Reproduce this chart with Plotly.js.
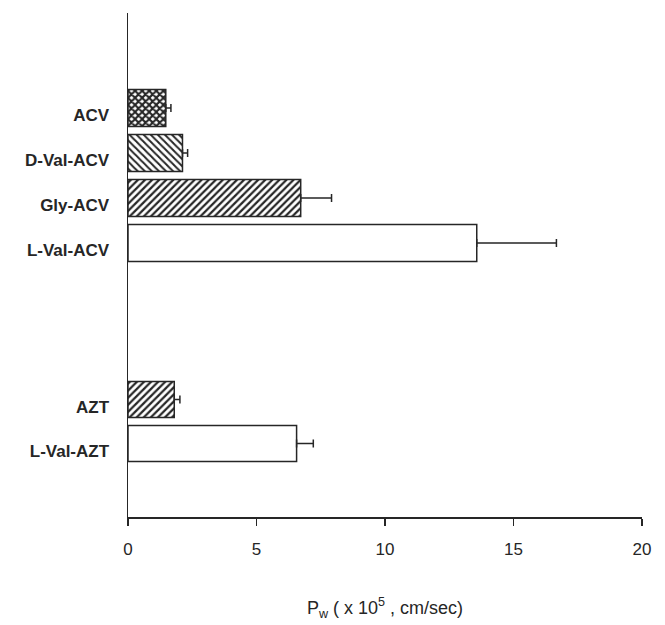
<!DOCTYPE html>
<html>
<head>
<meta charset="utf-8">
<script src="https://cdn.plot.ly/plotly-3.0.1.min.js"></script>
<style>html,body{margin:0;padding:0;background:#fff;}#chart{width:665px;height:625px;}</style>
</head>
<body>
<div id="chart"></div>
<script>
// ACV prodrug group
const acvCategories = ["ACV", "D-Val-ACV", "Gly-ACV", "L-Val-ACV"];
const acvValues = [1.47, 2.12, 6.72, 13.57];
const acvErrors = [0.2, 0.2, 1.2, 3.1];

// AZT prodrug group
const aztCategories = ["AZT", "L-Val-AZT"];
const aztValues = [1.8, 6.56];
const aztErrors = [0.22, 0.65];

const xTicks = [0, 5, 10, 15, 20];

// fill styles (pattern shape, solidity) per bar
const acvPatterns = ["x", "\\", "/", ""];
const acvSolidity = [0.65, 0.4, 0.45, 0.3];
const aztPatterns = ["/", ""];
const aztSolidity = [0.45, 0.3];

const ink = "#262626";
const fontFam = "Liberation Sans, Arial, sans-serif";

function barTrace(cats, vals, errs, pats, sol, yaxis) {
  return {
    type: "bar",
    orientation: "h",
    y: cats,
    x: vals,
    xaxis: "x",
    yaxis: yaxis,
    width: 0.82,
    marker: {
      color: "#ffffff",
      line: {color: ink, width: 1.5},
      pattern: {shape: pats, fgcolor: ink, bgcolor: "#ffffff", size: 5, solidity: sol, fillmode: "replace"}
    },
    error_x: {
      type: "data", symmetric: false, array: errs, arrayminus: errs.map(() => 0),
      color: ink, thickness: 1.5, width: 4
    },
    hoverinfo: "skip",
    showlegend: false
  };
}

const data = [
  barTrace(acvCategories, acvValues, acvErrors, acvPatterns, acvSolidity, "y"),
  barTrace(aztCategories, aztValues, aztErrors, aztPatterns, aztSolidity, "y2")
];

const yCommon = {
  type: "category",
  showline: true, linecolor: ink, linewidth: 1.5,
  ticks: "", showgrid: false, zeroline: false,
  tickfont: {family: fontFam, size: 17, color: ink, weight: "bold"},
  ticklabelstandoff: 14,
  ticklabelshift: -7
};

const layout = {
  width: 665, height: 625,
  margin: {l: 128, r: 23, t: 13, b: 108},
  paper_bgcolor: "#ffffff", plot_bgcolor: "#ffffff",
  font: {family: fontFam, color: ink},
  xaxis: {
    anchor: "y2", range: [0, 20], tickmode: "array", tickvals: xTicks,
    ticks: "outside", ticklen: 7, tickwidth: 1.5, tickcolor: ink,
    ticklabelstandoff: 9,
    showline: true, linecolor: ink, linewidth: 1.5,
    showgrid: false, zeroline: false,
    tickfont: {family: fontFam, size: 17, color: ink},
    title: {text: "P<sub>w</sub> ( x 10<sup>5</sup> , cm/sec)", font: {family: fontFam, size: 18, color: ink}, standoff: 43}
  },
  yaxis: Object.assign({}, yCommon, {
    domain: [0.3909, 1], range: [4.71, -2.11], anchor: "x"
  }),
  yaxis2: Object.assign({}, yCommon, {
    domain: [0, 0.3909], range: [2.67, -1.81], anchor: "x"
  })
};

Plotly.newPlot("chart", data, layout, {staticPlot: true, displayModeBar: false});
</script>
</body>
</html>
